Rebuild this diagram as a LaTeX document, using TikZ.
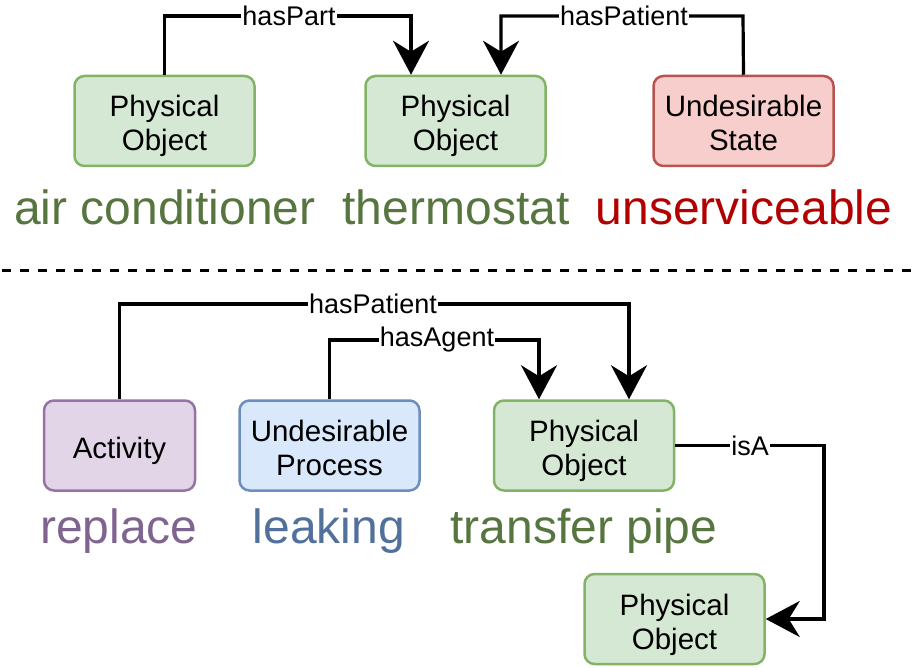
\documentclass[tikz,border=0pt]{standalone}
\usepackage{fontspec}
\setmainfont{Liberation Sans}
\usetikzlibrary{arrows.meta}
\definecolor{gfill}{HTML}{D5E8D4}\definecolor{gline}{HTML}{82B366}
\definecolor{rfill}{HTML}{F8CECC}\definecolor{rline}{HTML}{B85450}
\definecolor{pfill}{HTML}{E1D5E7}\definecolor{pline}{HTML}{9673A6}
\definecolor{bfill}{HTML}{DAE8FC}\definecolor{bline}{HTML}{6C8EBF}
\definecolor{gtext}{HTML}{56753F}\definecolor{rtext}{HTML}{B20000}
\definecolor{ptext}{HTML}{806490}\definecolor{btext}{HTML}{52709C}
\newcommand{\topstr}{\rule{0pt}{33pt}}
\newcommand{\botstr}{\rule[-7pt]{0pt}{0pt}}
\tikzset{
  box/.style={rounded corners=10pt, line width=2.5pt, minimum width=180pt, minimum height=90pt,
    align=center, font=\fontsize{29.5}{34}\selectfont, inner sep=0pt},
  gbox/.style={box, draw=gline, fill=gfill},
  rbox/.style={box, draw=rline, fill=rfill},
  pbox/.style={box, draw=pline, fill=pfill, minimum width=151pt},
  bbox/.style={box, draw=bline, fill=bfill},
  big/.style={font=\fontsize{48}{54}\selectfont, inner sep=0pt},
  conn/.style={line width=3.2pt, -{Stealth[length=34pt,width=36pt,inset=11pt]}},
  elabel/.style={fill=white, inner sep=1pt, font=\fontsize{27}{30}\selectfont}
}
\begin{document}
\begin{tikzpicture}[x=1pt,y=-1pt]
\useasboundingbox (0,0) rectangle (912,668);
% top row
\node[gbox] (ac) at (164.5,121) {\topstr Physical\\Object\botstr};
\node[gbox] (th) at (455.5,121) {\topstr Physical\\Object\botstr};
\node[rbox] (us) at (743.5,121) {\topstr Undesirable\\State\botstr};
\node[big, text=gtext] (acl) at (165,207) {air conditioner};
\node[big, text=gtext] (thl) at (456,207) {thermostat};
\node[big, text=rtext] (usl) at (744,207) {unserviceable};
\coordinate (p1) at (164.5,16);
\coordinate (p2) at (411,16);
\coordinate (q1) at (743,16);
\coordinate (q2) at (501,16);
\draw[conn] (ac.north) -- (p1) -- (p2) -- (p2 |- th.north);
\node[elabel] (l1) at (289,16) {hasPart};
\draw[conn] (us.north) -- (q1) -- (q2) -- (q2 |- th.north);
\node[elabel] (l2) at (624,16) {hasPatient};
% separator
\coordinate (s1) at (2,270.5);
\coordinate (s2) at (912,270.5);
\draw[line width=3pt, dash pattern=on 9pt off 9pt] (s1) -- (s2);
% bottom row
\node[pbox] (act) at (119.5,445.5) {\topstr Activity\botstr};
\node[bbox] (up) at (329.5,445.5) {\topstr Undesirable\\Process\botstr};
\node[gbox] (tp) at (584,445.5) {\topstr Physical\\Object\botstr};
\node[gbox] (po) at (674.5,619) {\topstr Physical\\Object\botstr};
\node[big, text=ptext] (rl) at (119,531) {replace};
\node[big, text=btext] (ll) at (329,531) {leaking};
\node[big, text=gtext] (tl) at (584,531) {transfer pipe};
\coordinate (a1) at (119.5,304);
\coordinate (a2) at (629,304);
\draw[conn] (act.north) -- (a1) -- (a2) -- (a2 |- tp.north);
\node[elabel] (l3) at (373,304) {hasPatient};
\coordinate (b1) at (329.5,340);
\coordinate (b2) at (539,340);
\draw[conn] (up.north) -- (b1) -- (b2) -- (b2 |- tp.north);
\node[elabel] (l4) at (437,340) {hasAgent};
\coordinate (c1) at (824,445.5);
\draw[conn] (tp.east) -- (c1) -- (c1 |- po.east) -- (po.east);
\node[elabel] (l5) at (750,445.5) {isA};
\end{tikzpicture}
\end{document}
